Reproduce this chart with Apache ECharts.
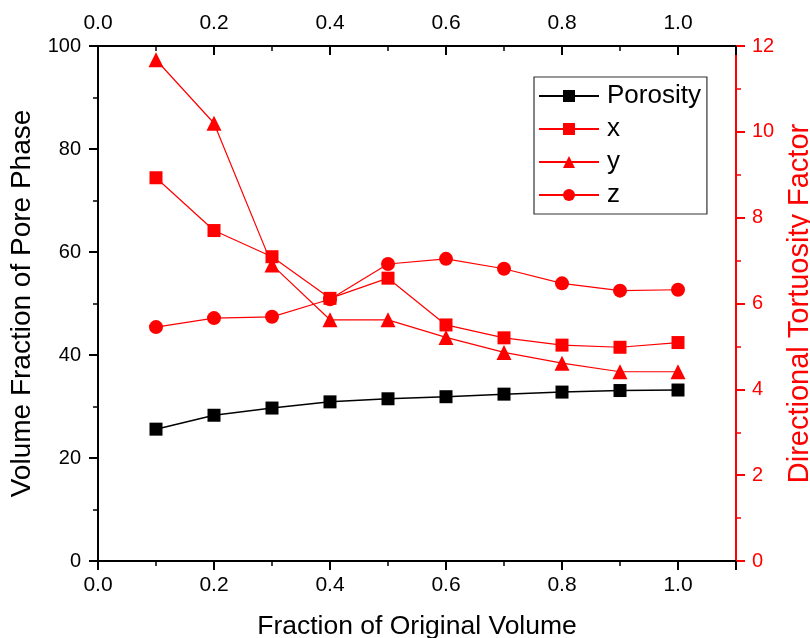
<!DOCTYPE html>
<html>
<head>
<meta charset="utf-8">
<script src="https://cdn.jsdelivr.net/npm/echarts@6/dist/echarts.min.js"></script>
<style>html,body{margin:0;padding:0;background:#fff}#c{width:810px;height:638px}</style>
</head>
<body>
<div id="c"></div>
<script>
const fractions = [0.1, 0.2, 0.3, 0.4, 0.5, 0.6, 0.7, 0.8, 0.9, 1.0];
const porosity = [25.6, 28.3, 29.7, 30.9, 31.5, 31.9, 32.4, 32.8, 33.1, 33.2];
const tortX = [8.93, 7.70, 7.09, 6.12, 6.59, 5.50, 5.20, 5.03, 4.98, 5.09];
const tortY = [11.68, 10.20, 6.90, 5.62, 5.62, 5.21, 4.86, 4.61, 4.41, 4.41];
const tortZ = [5.45, 5.66, 5.69, 6.10, 6.92, 7.04, 6.81, 6.47, 6.30, 6.32];
const seriesNames = ['Porosity', 'x', 'y', 'z'];

const FONT = 'Liberation Sans, Arial, sans-serif';
const RED = '#ff0000';
const pairs = (vals) => fractions.map((f, i) => [f, vals[i]]);

const chart = echarts.init(document.getElementById('c'), null, {renderer: 'canvas'});
const fmt1 = v => v.toFixed(1);

chart.setOption({
  animation: false,
  backgroundColor: '#fff',
  grid: {left: 98, right: 74, top: 46, bottom: 77, containLabel: false, outerBoundsMode: 'none'},
  legend: {
    orient: 'vertical',
    left: 534, top: 77,
    padding: [6, 6, 6, 4],
    itemGap: 7,
    itemWidth: 60, itemHeight: 15,
    borderColor: '#333', borderWidth: 1.2,
    backgroundColor: '#fff',
    textStyle: {fontFamily: FONT, fontSize: 26, color: '#000', padding: [0, 0, 0, 3]},
    data: seriesNames
  },
  xAxis: [{
    type: 'value', min: 0, max: 1.1, interval: 0.2, position: 'bottom',
    name: 'Fraction of Original Volume', nameLocation: 'middle', nameGap: 52,
    nameTextStyle: {fontFamily: FONT, fontSize: 26.5, color: '#000'},
    axisLine: {show: true, onZero: false, lineStyle: {color: '#000', width: 2}},
    axisTick: {show: true, inside: false, length: 9, lineStyle: {color: '#000', width: 2}},
    minorTick: {show: true, splitNumber: 2, length: 5, lineStyle: {color: '#000', width: 1.5}},
    axisLabel: {formatter: fmt1, showMaxLabel: false, fontFamily: FONT, fontSize: 21, color: '#000', margin: 14},
    splitLine: {show: false}
  }, {
    type: 'value', min: 0, max: 1.1, interval: 0.2, position: 'top',
    axisLine: {show: true, onZero: false, lineStyle: {color: '#000', width: 2}},
    axisTick: {show: true, inside: true, length: 9, lineStyle: {color: '#000', width: 2}},
    minorTick: {show: true, splitNumber: 2, length: 5, lineStyle: {color: '#000', width: 1.5}},
    axisLabel: {formatter: fmt1, showMaxLabel: false, fontFamily: FONT, fontSize: 21, color: '#000', margin: 12},
    splitLine: {show: false}
  }],
  yAxis: [{
    type: 'value', min: 0, max: 100, interval: 20, position: 'left',
    name: 'Volume Fraction of Pore Phase', nameLocation: 'middle', nameGap: 51,
    nameTextStyle: {fontFamily: FONT, fontSize: 28, color: '#000'},
    axisLine: {show: true, onZero: false, lineStyle: {color: '#000', width: 2}},
    axisTick: {show: true, inside: false, length: 9, lineStyle: {color: '#000', width: 2}},
    minorTick: {show: true, splitNumber: 2, length: 5, lineStyle: {color: '#000', width: 1.5}},
    axisLabel: {fontFamily: FONT, fontSize: 20, color: '#000', margin: 17},
    splitLine: {show: false}
  }, {
    type: 'value', min: 0, max: 12, interval: 2, position: 'right',
    name: 'Directional Tortuosity Factor', nameLocation: 'middle', nameGap: 46,
    nameTextStyle: {fontFamily: FONT, fontSize: 29, color: RED},
    axisLine: {show: true, onZero: false, lineStyle: {color: RED, width: 2}},
    axisTick: {show: true, inside: false, length: 9, lineStyle: {color: RED, width: 2}},
    minorTick: {show: true, splitNumber: 2, length: 5, lineStyle: {color: RED, width: 1.5}},
    axisLabel: {fontFamily: FONT, fontSize: 20, color: RED, margin: 16},
    splitLine: {show: false}
  }],
  series: [
    {name: 'Porosity', type: 'line', xAxisIndex: 0, yAxisIndex: 0, data: pairs(porosity),
     symbol: 'rect', symbolSize: 13, itemStyle: {color: '#000'}, lineStyle: {color: '#000', width: 1.5}},
    {name: 'x', type: 'line', xAxisIndex: 0, yAxisIndex: 1, data: pairs(tortX),
     symbol: 'rect', symbolSize: 13, itemStyle: {color: RED}, lineStyle: {color: RED, width: 1.2}},
    {name: 'y', type: 'line', xAxisIndex: 0, yAxisIndex: 1, data: pairs(tortY),
     symbol: 'triangle', symbolSize: 15, itemStyle: {color: RED}, lineStyle: {color: RED, width: 1.2}},
    {name: 'z', type: 'line', xAxisIndex: 0, yAxisIndex: 1, data: pairs(tortZ),
     symbol: 'circle', symbolSize: 14, itemStyle: {color: RED}, lineStyle: {color: RED, width: 1.2}}
  ]
});
</script>
</body>
</html>
